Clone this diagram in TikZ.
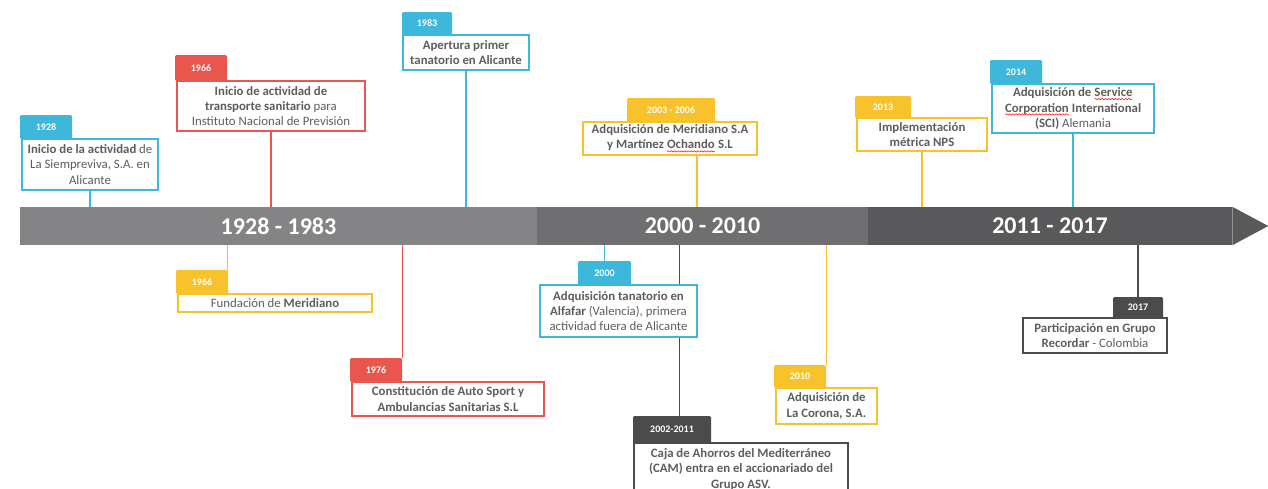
\documentclass[tikz,border=0pt]{standalone}
\usepackage{fontspec}
\setmainfont{Carlito}
\usetikzlibrary{backgrounds,calc,decorations.pathmorphing}
\definecolor{cblue}{HTML}{3DB8DA}
\definecolor{cred}{HTML}{E8564E}
\definecolor{cyel}{HTML}{F7C22B}
\definecolor{cdark}{HTML}{4B4B4E}
\definecolor{ctext}{HTML}{5E5E60}
\definecolor{seg1}{HTML}{848487}
\definecolor{seg2}{HTML}{6F6F72}
\definecolor{seg3}{HTML}{59595C}
\newcommand\wavy[1]{\tikz[baseline=(w.base)]{\node[inner sep=0pt, outer sep=0pt, minimum width=0pt, minimum height=0pt, draw=none, fill=none, text=ctext, anchor=base] (w) at (0,0) {#1}; \draw[red, line width=0.4pt, decorate, decoration={snake, amplitude=0.5pt, segment length=2.5pt}] ([yshift=-1.8pt]w.base west) -- ([yshift=-1.8pt]w.base east);}}
\newcommand\evt[7]{\node[evbox=#2, minimum width={(#5-#3)*0.75pt}, minimum height={(#6-#4)*0.75pt}] (#1) at ({(#3+#5)/2},{(#4+#6)/2}) {#7};}
\newcommand\tg[7]{\node[tagbox=#2, minimum width={(#5-#3)*0.75pt}, minimum height={(#6-#4)*0.75pt}] (#1) at ({(#3+#5)/2},{(#4+#6)/2}) {#7};}
\begin{document}
\begin{tikzpicture}[x=0.75pt,y=-0.75pt,
  evbox/.style={draw=#1, line width=1.1pt, fill=white, inner sep=0pt, align=center, text=ctext, font=\fontsize{9.6}{11.5}\selectfont},
  tagbox/.style={fill=#1, rounded corners=1pt, inner sep=0pt, text=white, font=\fontsize{7.5}{8}\selectfont\bfseries},
  conn/.style={draw=#1, line width=1pt},
  seg/.style={fill=#1, inner sep=0pt, text=white, font=\fontsize{18}{20}\selectfont\bfseries}]
\useasboundingbox (0,0) rectangle (1268,489);
% timeline bar
\node[seg=seg1, minimum width={517*0.75pt}, minimum height={38*0.75pt}] (s1) at (278.5,226) {1928 - 1983};
\node[seg=seg2, minimum width={331*0.75pt}, minimum height={38*0.75pt}] (s2) at (702.5,226) {2000 - 2010};
\node[seg=seg3, minimum width={364*0.75pt}, minimum height={38*0.75pt}] (s3) at (1050,226) {2011 - 2017};
\fill[seg3] (s3.north east) -- ($(s3.east)+(36,0)$) -- (s3.south east) -- cycle;
% events above
\evt{b1}{cblue}{22}{139}{158}{190}{\textbf{Inicio de la actividad} de\\La Siempreviva, S.A. en\\Alicante}
\tg{t1}{cblue}{20}{115}{72}{139}{1928}
\evt{b2}{cred}{177}{81}{365}{131}{\textbf{Inicio de actividad de}\\\textbf{transporte sanitario} para\\Instituto Nacional de Previsión}
\tg{t2}{cred}{175}{55}{227}{81}{1966}
\evt{b3}{cblue}{403}{35}{529}{70}{\textbf{Apertura primer}\\\textbf{tanatorio en Alicante}}
\tg{t3}{cblue}{402}{12}{452}{35}{1983}
\evt{b4}{cyel}{583}{122}{757}{155}{\textbf{Adquisición de Meridiano S.A}\\\textbf{y Martínez \wavy{Ochando} S.L}}
\tg{t4}{cyel}{627}{98}{715}{122}{2003 - 2006}
\evt{b5}{cyel}{857}{118}{987}{151}{\textbf{Implementación}\\\textbf{métrica NPS}}
\tg{t5}{cyel}{855}{96}{911}{118}{2013}
\evt{b6}{cblue}{992}{84}{1154}{133}{\textbf{Adquisición de \wavy{Service}}\\\textbf{\wavy{Corporation} International}\\\textbf{(SCI)} Alemania}
\tg{t6}{cblue}{990}{60}{1042}{84}{2014}
% events below
\evt{b7}{cyel}{178}{294}{372}{312}{Fundación de \textbf{Meridiano}}
\tg{t7}{cyel}{176}{270}{228}{294}{1966}
\evt{b8}{cred}{352}{382}{544}{416}{\textbf{Constitución de Auto Sport y}\\\textbf{Ambulancias Sanitarias S.L}}
\tg{t8}{cred}{350}{358}{402}{382}{1976}
\evt{b9}{cblue}{540}{285}{697}{337}{\textbf{Adquisición tanatorio en}\\\textbf{Alfafar} (Valencia), primera\\actividad fuera de Alicante}
\tg{t9}{cblue}{578}{261}{631}{285}{2000}
\evt{b10}{cdark}{634}{443}{848}{496}{\textbf{Caja de Ahorros del Mediterráneo}\\\textbf{(CAM) entra en el accionariado del}\\\textbf{Grupo ASV.}}
\tg{t10}{cdark}{633}{416}{711}{443}{2002-2011}
\evt{b11}{cyel}{776}{388}{877}{424}{\textbf{Adquisición de}\\\textbf{La Corona, S.A.}}
\tg{t11}{cyel}{774}{365}{826}{388}{2010}
\evt{b12}{cdark}{1023}{318}{1167}{353}{\textbf{Participación en Grupo}\\\textbf{Recordar} - Colombia}
\tg{t12}{cdark}{1113}{297}{1163}{318}{2017}
% connectors
\coordinate (c4) at ($(b4.south)+(27,0)$);
\coordinate (c7) at ($(t7.north east)+(-1,0)$);
\coordinate (c10) at ($(t10.north west)+(47,0)$);
\begin{pgfonlayer}{background}
\draw[conn=cblue] (b1.south) -- (b1.south |- s1.north);
\draw[conn=cred] (b2.south) -- (b2.south |- s1.north);
\draw[conn=cblue] (b3.south) -- (b3.south |- s1.north);
\draw[conn=cyel] (c4) -- (c4 |- s2.north);
\draw[conn=cyel] (b5.south) -- (b5.south |- s3.north);
\draw[conn=cblue] (b6.south) -- (b6.south |- s3.north);
\draw[conn=cyel] (c7) -- (c7 |- s1.south);
\draw[conn=cred] (t8.north east) -- (t8.north east |- s1.south);
\draw[conn=cblue] (t9.north) -- (t9.north |- s2.south);
\draw[conn=cdark] (c10) -- (c10 |- s2.south);
\draw[conn=cyel] (t11.north east) -- (t11.north east |- s2.south);
\draw[conn=cdark] (t12.north) -- (t12.north |- s3.south);
\end{pgfonlayer}
\end{tikzpicture}
\end{document}
